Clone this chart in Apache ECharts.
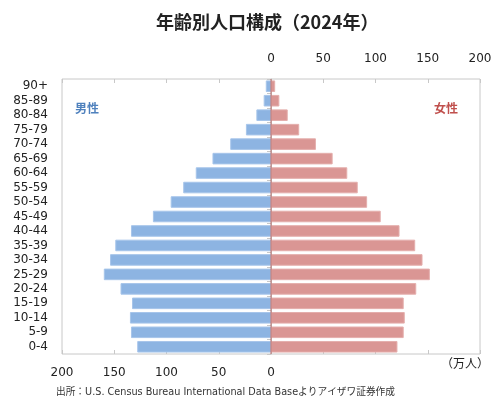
<!DOCTYPE html>
<html>
<head>
    <meta charset="utf-8" />
    <title>年齢別人口構成（2024年）</title>
    <script type="text/javascript" src="https://cdn.jsdelivr.net/npm/echarts@6/dist/echarts.min.js"></script>
    <style>
        html, body { margin: 0; padding: 0; background: #fff; }
        #main { width: 500px; height: 414px; }
    </style>
</head>
<body>
    <div id="main"></div>
    <script type="text/javascript">
        // 年齢階級（下から上へ）
        var ages = ['0-4', '5-9', '10-14', '15-19', '20-24', '25-29', '30-34', '35-39', '40-44',
            '45-49', '50-54', '55-59', '60-64', '65-69', '70-74', '75-79', '80-84', '85-89', '90+'];
        // 男性（万人）
        var male = [128, 134, 135, 133, 144, 160, 154, 149, 134,
            113, 96, 84, 72, 56, 39, 24, 14, 7, 5];
        // 女性（万人）
        var female = [121, 127, 128, 127, 139, 152, 145, 138, 123,
            105, 92, 83, 73, 59, 43, 27, 16, 8, 4];
        var ticks = [0, 50, 100, 150, 200];

        var font = "'DejaVu Sans', sans-serif";
        var jpFont = "'Noto Sans CJK JP', sans-serif";
        var maleNeg = male.map(function (v) { return -v; });

        var myChart = echarts.init(document.getElementById('main'));
        var option = {
            backgroundColor: '#fff',
            animation: false,
            title: {
                text: '年齢別人口構成（2024年）',
                left: 151,
                top: 8,
                textStyle: { fontSize: 18, fontWeight: 'bold', color: '#222', fontFamily: jpFont }
            },
            grid: {
                left: 62, right: 20, top: 79, bottom: 60,
                show: true, borderColor: '#c8c8c8', borderWidth: 1
            },
            xAxis: [{
                type: 'value', position: 'bottom',
                min: -200, max: 200, interval: 50,
                axisLine: { show: false },
                axisTick: { show: true, inside: true, length: 4, lineStyle: { color: '#c8c8c8' } },
                splitLine: { show: false },
                axisLabel: {
                    margin: 13, fontSize: 12, color: '#222', fontFamily: font,
                    formatter: function (v) { return v <= 0 ? String(-v) : ''; }
                }
            }, {
                type: 'value', position: 'top',
                min: -200, max: 200, interval: 50,
                axisLine: { show: false },
                axisTick: { show: true, inside: true, length: 4, lineStyle: { color: '#c8c8c8' } },
                splitLine: { show: false },
                axisLabel: {
                    margin: 14, fontSize: 12, color: '#222', fontFamily: font,
                    formatter: function (v) { return v >= 0 ? String(v) : ''; }
                }
            }],
            yAxis: [{
                type: 'category', data: ages, position: 'left',
                axisLine: { show: false },
                axisTick: { show: false },
                axisLabel: { interval: 0, margin: 14, fontSize: 12, color: '#222', fontFamily: font }
            }, {
                type: 'category', data: ages, position: 'left',
                axisLine: { show: true, onZero: true, lineStyle: { color: '#c8c8c8' } },
                axisTick: { show: true, interval: 0, length: 4, lineStyle: { color: '#c8c8c8' } },
                axisLabel: { show: false }
            }],
            series: [{
                name: '男性', type: 'bar', stack: 'pop',
                data: maleNeg,
                barCategoryGap: '20%',
                itemStyle: { color: '#8db4e2', borderColor: '#a7c5ea', borderWidth: 1 },
                z: 2
            }, {
                name: '女性', type: 'bar', stack: 'pop',
                data: female,
                barCategoryGap: '20%',
                itemStyle: { color: '#da9694', borderColor: '#e4aeac', borderWidth: 1 },
                z: 2
            }],
            graphic: [{
                type: 'text', left: 75, top: 102,
                style: { text: '男性', fontSize: 12, fontWeight: 'bold', fill: '#4f81bd', fontFamily: jpFont }
            }, {
                type: 'text', left: 434, top: 102,
                style: { text: '女性', fontSize: 12, fontWeight: 'bold', fill: '#c0504d', fontFamily: jpFont }
            }, {
                type: 'text', left: 441, top: 357,
                style: { text: '（万人）', fontSize: 12, fill: '#222', fontFamily: jpFont }
            }, {
                type: 'text', left: 56, top: 388,
                style: { text: '出所：U.S. Census Bureau International Data Baseよりアイザワ証券作成', fontSize: 9.7, fill: '#333', fontFamily: "'DejaVu Sans', 'Noto Sans CJK JP', sans-serif" }
            }, {
                type: 'line', z: 5,
                shape: { x1: 271, y1: 79, x2: 271, y2: 354 },
                style: { stroke: '#b46a68', lineWidth: 1 }
            }]
        };
        option && myChart.setOption(option);
    </script>
</body>
</html>
